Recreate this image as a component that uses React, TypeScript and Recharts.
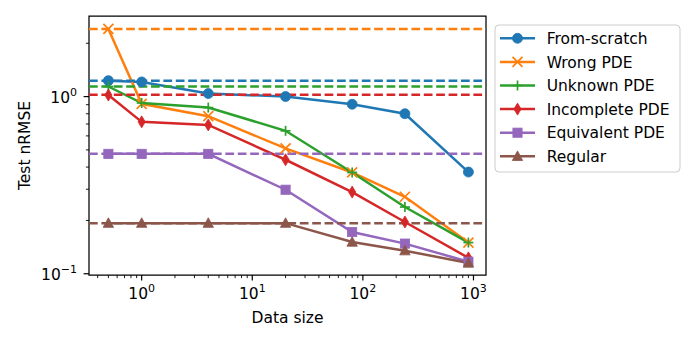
import { LineChart, Line, XAxis, YAxis, ReferenceLine, ReferenceArea } from 'recharts';

const DATA_SIZE = [0.5, 1, 4, 20, 80, 240, 900];
const FROM_SCRATCH = [1.23, 1.21, 1.04, 1.0, 0.905, 0.8, 0.375];
const WRONG_PDE = [2.41, 0.91, 0.775, 0.51, 0.373, 0.272, 0.15];
const UNKNOWN_PDE = [1.14, 0.92, 0.867, 0.641, 0.373, 0.238, 0.15];
const INCOMPLETE_PDE = [1.02, 0.72, 0.692, 0.44, 0.289, 0.196, 0.123];
const EQUIVALENT_PDE = [0.475, 0.475, 0.475, 0.298, 0.172, 0.148, 0.117];
const REGULAR = [0.193, 0.193, 0.193, 0.193, 0.151, 0.135, 0.115];

// dashed reference level per series (zero-shot error)
const BASELINE = [1.23, 2.41, 1.14, 1.025, 0.475, 0.193];

const X_DOMAIN = [0.334, 1298];
const Y_DOMAIN = [0.0984, 2.85];
const X_TICKS = [
  0.4, 0.5, 0.6, 0.7, 0.8, 0.9, 1, 2, 3, 4, 5, 6, 7, 8, 9, 10, 20, 30, 40, 50, 60, 70, 80, 90,
  100, 200, 300, 400, 500, 600, 700, 800, 900, 1000,
];
const Y_TICKS = [0.1, 0.2, 0.3, 0.4, 0.5, 0.6, 0.7, 0.8, 0.9, 1, 2];

const SERIES = [
  { key: 'scratch', name: 'From-scratch', color: '#1f77b4', marker: 'o', values: FROM_SCRATCH },
  { key: 'wrong', name: 'Wrong PDE', color: '#ff7f0e', marker: 'x', values: WRONG_PDE },
  { key: 'unknown', name: 'Unknown PDE', color: '#2ca02c', marker: '+', values: UNKNOWN_PDE },
  { key: 'incomplete', name: 'Incomplete PDE', color: '#d62728', marker: 'd', values: INCOMPLETE_PDE },
  { key: 'equivalent', name: 'Equivalent PDE', color: '#9467bd', marker: 's', values: EQUIVALENT_PDE },
  { key: 'regular', name: 'Regular', color: '#8c564b', marker: '^', values: REGULAR },
];

const data = DATA_SIZE.map((x, i) => {
  const row: Record<string, number> = { x };
  SERIES.forEach((s) => (row[s.key] = s.values[i]));
  return row;
});

const FONT = '"DejaVu Sans", sans-serif';
const FS = 15.5;
const LW = 2.5;

function Marker({ cx, cy, shape, color }: { cx: number; cy: number; shape: string; color: string }) {
  const r = 5;
  switch (shape) {
    case 'o':
      return <circle cx={cx} cy={cy} r={r} fill={color} stroke={color} strokeWidth={0.8} />;
    case 'x':
      return (
        <g stroke={color} strokeWidth={1.7}>
          <line x1={cx - r} y1={cy - r} x2={cx + r} y2={cy + r} />
          <line x1={cx - r} y1={cy + r} x2={cx + r} y2={cy - r} />
        </g>
      );
    case '+':
      return (
        <g stroke={color} strokeWidth={1.7}>
          <line x1={cx - r} y1={cy} x2={cx + r} y2={cy} />
          <line x1={cx} y1={cy - r} x2={cx} y2={cy + r} />
        </g>
      );
    case 'd':
      return (
        <polygon
          points={`${cx},${cy - 6} ${cx + 3.6},${cy} ${cx},${cy + 6} ${cx - 3.6},${cy}`}
          fill={color}
          stroke={color}
          strokeWidth={0.8}
        />
      );
    case 's':
      return <rect x={cx - 4.6} y={cy - 4.6} width={9.2} height={9.2} fill={color} stroke={color} strokeWidth={0.8} />;
    default:
      return (
        <polygon
          points={`${cx},${cy - 5.4} ${cx + 5.2},${cy + 4.2} ${cx - 5.2},${cy + 4.2}`}
          fill={color}
          stroke={color}
          strokeWidth={0.8}
        />
      );
  }
}

const isMajor = (v: number) => Math.abs(Math.log10(v) - Math.round(Math.log10(v))) < 1e-9;

function XTick(props: any) {
  const { x, y, payload } = props;
  const v = payload.value;
  const major = isMajor(v);
  return (
    <g>
      <line x1={x} x2={x} y1={y} y2={y + (major ? 5.4 : 3.1)} stroke="#000" strokeWidth={major ? 1.2 : 0.9} />
      {major && (
        <text x={x} y={y + 24} textAnchor="middle" fontFamily={FONT} fontSize={FS} fill="#000">
          10<tspan fontSize={11} dy={-7}>{Math.round(Math.log10(v))}</tspan>
        </text>
      )}
    </g>
  );
}

function YTick(props: any) {
  const { x, y, payload } = props;
  const v = payload.value;
  const major = isMajor(v);
  const exp = Math.round(Math.log10(v));
  return (
    <g>
      <line x1={x - (major ? 5.4 : 3.1)} x2={x} y1={y} y2={y} stroke="#000" strokeWidth={major ? 1.2 : 0.9} />
      {major && (
        <text x={x - 12} y={y + 6} textAnchor="end" fontFamily={FONT} fontSize={FS} fill="#000">
          10<tspan fontSize={11} dy={-7}>{exp === 0 ? '0' : '\u2212' + Math.abs(exp)}</tspan>
        </text>
      )}
    </g>
  );
}

function LegendBox() {
  return (
    <svg width={188} height={150} style={{ position: 'absolute', left: 494, top: 24 }}>
      <rect x={1} y={1} width={185} height={147} rx={4} fill="#fff" fillOpacity={0.8} stroke="#cccccc" strokeWidth={1} />
      {SERIES.map((s, i) => {
        const cy = 14.3 + i * 23.6;
        return (
          <g key={s.key}>
            <line x1={6} x2={41} y1={cy} y2={cy} stroke={s.color} strokeWidth={LW} />
            <Marker cx={23.5} cy={cy} shape={s.marker} color={s.color} />
            <text x={52.7} y={cy + 5.6} fontFamily={FONT} fontSize={FS} fill="#000">
              {s.name}
            </text>
          </g>
        );
      })}
    </svg>
  );
}

export default function App() {
  return (
    <div style={{ position: 'absolute', left: 0, top: 0, width: 698, height: 349, background: '#fff' }}>
      <LineChart width={698} height={349} data={data} margin={{ top: 16, right: 212, bottom: 0, left: 0 }}>
        <XAxis
          dataKey="x"
          type="number"
          scale="log"
          domain={X_DOMAIN}
          allowDataOverflow
          ticks={X_TICKS}
          interval={0}
          height={74}
          tickSize={0}
          tickMargin={0}
          axisLine={false}
          tickLine={false}
          tick={<XTick />}
          label={{
            content: (p: any) => (
              <text
                x={p.viewBox.x + p.viewBox.width / 2}
                y={323}
                textAnchor="middle"
                fontFamily={FONT}
                fontSize={FS}
                fill="#000"
              >
                Data size
              </text>
            ),
          }}
        />
        <YAxis
          type="number"
          scale="log"
          domain={Y_DOMAIN}
          allowDataOverflow
          ticks={Y_TICKS}
          interval={0}
          width={89}
          tickSize={0}
          tickMargin={0}
          axisLine={false}
          tickLine={false}
          tick={<YTick />}
          label={{
            content: (p: any) => (
              <text
                x={30}
                y={p.viewBox.y + p.viewBox.height / 2}
                transform={`rotate(-90 30 ${p.viewBox.y + p.viewBox.height / 2})`}
                textAnchor="middle"
                fontFamily={FONT}
                fontSize={FS}
                fill="#000"
              >
                Test nRMSE
              </text>
            ),
          }}
        />
        {SERIES.map((s) => (
          <Line
            key={s.key}
            dataKey={s.key}
            name={s.name}
            stroke={s.color}
            strokeWidth={LW}
            isAnimationActive={false}
            dot={(p: any) => <Marker key={`${s.key}-${p.index}`} cx={p.cx} cy={p.cy} shape={s.marker} color={s.color} />}
            activeDot={false}
          />
        ))}
        {SERIES.map((s, i) => (
          <ReferenceLine key={`ref-${s.key}`} y={BASELINE[i]} stroke={s.color} strokeWidth={LW} strokeDasharray="8.7 3.7" />
        ))}
        <ReferenceArea
          x1={X_DOMAIN[0]}
          x2={X_DOMAIN[1]}
          y1={Y_DOMAIN[0]}
          y2={Y_DOMAIN[1]}
          fill="none"
          fillOpacity={0}
          stroke="#000"
          strokeWidth={1.25}
        />
      </LineChart>
      <LegendBox />
    </div>
  );
}
